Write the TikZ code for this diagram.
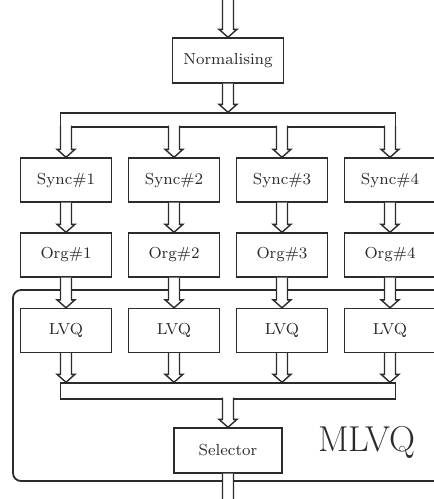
\documentclass[tikz,border=0pt]{standalone}
\usepackage{tikz}
\usetikzlibrary{calc}
\definecolor{InkGray}{HTML}{2B2B2B}

\begin{document}
\begin{tikzpicture}[x=0.5pt,y=-0.5pt,
  block/.style={rectangle,draw=InkGray,fill=white,line width=0.7pt,minimum width=45.5pt,
    minimum height=22pt,inner sep=0pt,text=InkGray,font=\fontsize{8}{9.5}\selectfont},
  pipe/.style={rectangle,draw=InkGray,fill=white,line width=0.7pt,minimum width=167.5pt,inner sep=0pt},
  hollow/.style={draw=InkGray,fill=white,line width=0.7pt,
    to path={let \p1=(\tikztostart),\p2=(\tikztotarget) in
      (\x1-2.75pt,\y1) -- (\x1-2.75pt,\y2+4pt) -- (\x1-4.5pt,\y2+4pt) -- (\x1,\y2)
      -- (\x1+4.5pt,\y2+4pt) -- (\x1+2.75pt,\y2+4pt) -- (\x1+2.75pt,\y1)}}]
  \useasboundingbox (0,0) rectangle (434,499);
  \clip (0,0) rectangle (434,499);
  % the MLVQ frame
  \node[draw=InkGray,line width=0.9pt,rounded corners=4pt,minimum width=214.5pt,
    minimum height=95.5pt,inner sep=0pt] (frame) at (227.5,385.5) {};
  \node[text=InkGray,font=\fontsize{18}{20}\selectfont] (mlvq) at (367,442) {MLVQ};
  % blocks
  \node[block,minimum width=55.5pt,minimum height=22.5pt] (norm) at (228,60.5) {Normalising};
  \node[pipe,minimum height=7pt] (fork) at (228,120) {};
  \foreach \i/\x in {1/66,2/174,3/282,4/390} {
    \node[block] (sync\i) at (\x,180) {Sync\#\i};
    \node[block] (org\i) at (\x,255) {Org\#\i};
    \node[block] (lvq\i) at (\x,330.5) {LVQ};
  }
  \node[pipe,minimum height=8pt] (join) at (228,391) {};
  \node[block,minimum width=54pt,minimum height=22.5pt] (sel) at (228,450.5) {Selector};
  % hollow arrows
  \coordinate (in) at (228,-12);
  \coordinate (out) at (228,514);
  \draw[hollow] (in) to (norm.north);
  \draw[hollow] (norm.south) to (fork.north);
  \foreach \i in {1,...,4} {
    \draw[hollow] ([yshift=1pt]sync\i.north |- fork.south) to (sync\i.north);
    \draw[hollow] (sync\i.south) to (org\i.north);
    \draw[hollow] (org\i.south) to (lvq\i.north);
    \draw[hollow] (lvq\i.south) to (lvq\i.south |- join.north);
  }
  \draw[hollow] ([yshift=1pt]join.south) to (sel.north);
  \draw[hollow] (sel.south) to (out);
\end{tikzpicture}
\end{document}
